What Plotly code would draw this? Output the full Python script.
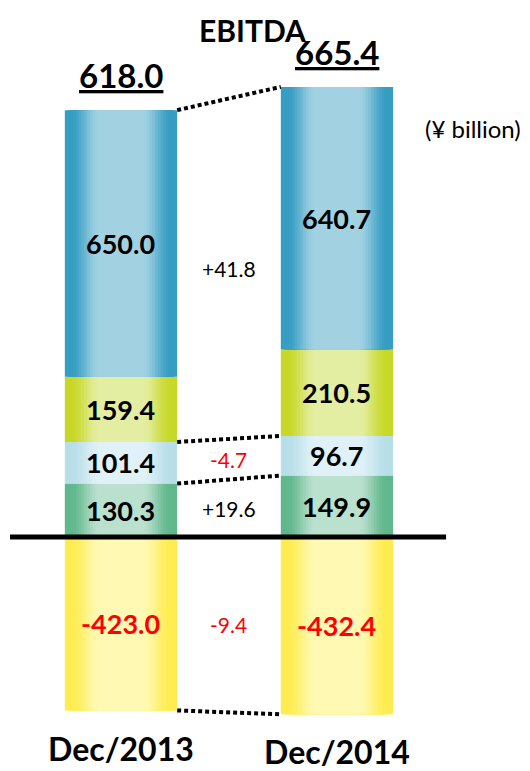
import plotly.graph_objects as go
import numpy as np

periods = ["Dec/2013", "Dec/2014"]
totals = [618.0, 665.4]
# stacked segments, bottom to top (positive), then the negative one
seg_names = ["green", "lightblue", "yellowgreen", "blue"]
green = [130.3, 149.9]
lightblue = [101.4, 96.7]
yellowgreen = [159.4, 210.5]
blue = [650.0, 640.7]
yellow = [-423.0, -432.4]

# edge colour / centre colour of each horizontal gradient
grad = {
    "green": ((96, 184, 140), (186, 224, 206)),
    "lightblue": ((184, 222, 232), (224, 241, 247)),
    "yellowgreen": ((200, 216, 40), (228, 238, 162)),
    "blue": ((54, 157, 195), (162, 210, 226)),
    "yellow": ((255, 236, 80), (255, 249, 180)),
}

FONT = "Lato"
W = 0.52
N = 14


def mix(c0, c1, t):
    return "rgb(%d,%d,%d)" % tuple(round(a + (b - a) * t) for a, b in zip(c0, c1))


def gradient_bar(fig, x, y, base, name):
    edge, centre = grad[name]
    for j in range(N):
        d = 0.32 * j / (N - 1)  # distance from bar edge as a fraction of width
        t = min(1.0, max(0.0, (d - 0.04) / 0.26))
        t = t * t * (3 - 2 * t)
        fig.add_trace(go.Bar(x=x, y=y, base=base, width=W * (1 - 2 * d),
                             marker=dict(color=mix(edge, centre, t), line_width=0),
                             hoverinfo="skip", showlegend=False))


def label(fig, **kw):
    kw.setdefault("showarrow", False)
    kw.setdefault("xanchor", "center")
    kw.setdefault("yanchor", "middle")
    fig.add_annotation(**kw)


fig = go.Figure()
xs = [0, 1]
series = {"green": green, "lightblue": lightblue, "yellowgreen": yellowgreen, "blue": blue}
cum = np.zeros(2)
tops = {}
for name in seg_names:
    vals = np.array(series[name])
    gradient_bar(fig, xs, vals, cum.copy(), name)
    for i in range(2):
        label(fig, x=xs[i], y=cum[i] + vals[i] / 2, text="<b>%.1f</b>" % vals[i],
              font=dict(family=FONT, size=27, color="black"))
    cum = cum + vals
    tops[name] = cum.copy()
gradient_bar(fig, xs, yellow, [0, 0], "yellow")
for i in range(2):
    label(fig, x=xs[i], y=yellow[i] / 2, text="<b>%.1f</b>" % yellow[i],
          font=dict(family=FONT, size=27, color="red"))

# totals above bars
for i in range(2):
    label(fig, x=xs[i], y=tops["blue"][i], text="<b><u>%.1f</u></b>" % totals[i],
          yanchor="bottom", yshift=13, font=dict(family=FONT, size=33, color="black"))

# dotted connectors
xl, xr = xs[0] + W / 2, xs[1] - W / 2
for yy in [tops["blue"], tops["lightblue"], tops["green"], yellow]:
    fig.add_shape(type="line", x0=xl, x1=xr, y0=yy[0], y1=yy[1],
                  line=dict(color="black", width=4, dash="4px,3px"), layer="above")

# change labels between bars
big = np.array(blue) + np.array(yellowgreen)
groups = [
    (big, tops["lightblue"] + big / 2),
    (np.array(lightblue), np.array(green) + np.array(lightblue) / 2),
    (np.array(green), np.array(green) / 2),
    (np.array(yellow), np.array(yellow) / 2),
]
for vals, mids in groups:
    diff = vals[1] - vals[0]
    label(fig, x=0.5, y=mids.mean(), text="%+.1f" % diff,
          font=dict(family=FONT, size=21, color="red" if diff < 0 else "black"))

# zero line
fig.add_shape(type="line", x0=-0.514, x1=1.505, y0=0, y1=0,
              line=dict(color="black", width=5), layer="above")

label(fig, x=0.462, y=0.972, xref="paper", yref="paper", text="<b>EBITDA</b>",
      font=dict(family=FONT, size=30, color="black"))
label(fig, x=0.877, y=0.844, xref="paper", yref="paper", text="(¥ billion)",
      font=dict(family=FONT, size=24, color="black"))
for i, p in enumerate(periods):
    label(fig, x=xs[i], y=0.040 - 0.004 * i, yref="paper", text="<b>%s</b>" % p,
          font=dict(family=FONT, size=32, color="black"))

fig.update_layout(
    width=530, height=771,
    margin=dict(l=0, r=0, t=0, b=0),
    barmode="overlay",
    plot_bgcolor="white", paper_bgcolor="white",
    xaxis=dict(range=[-0.5231, 1.9306], visible=False),
    yaxis=dict(range=[-590.2, 1290.2], visible=False),
)
fig.write_html("out.html")
